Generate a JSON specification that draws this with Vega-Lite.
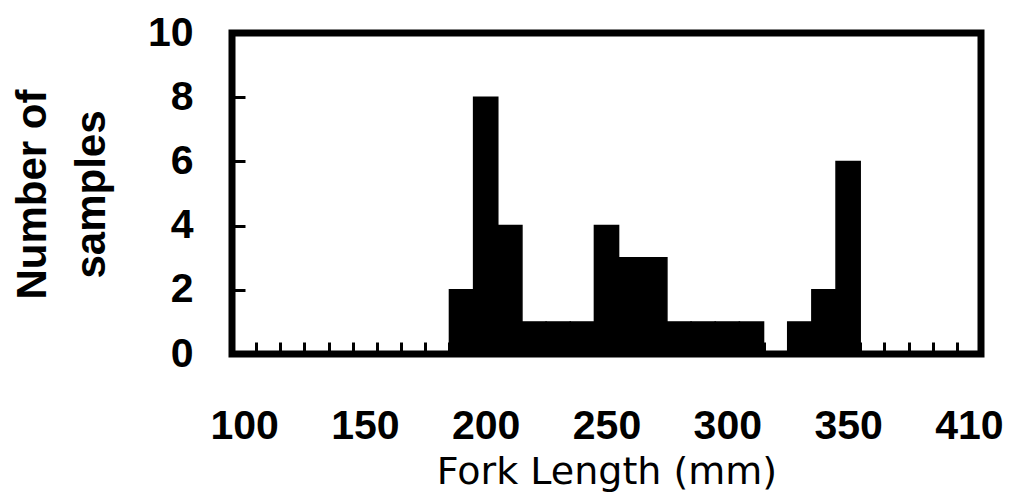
{
  "$schema": "https://vega.github.io/schema/vega-lite/v6.json",
  "autosize": {"type": "none"},
  "padding": {"left": 232, "top": 33, "right": 31, "bottom": 139},
  "width": 749,
  "height": 321,
  "background": "white",
  "config": {
    "view": {"stroke": "black", "strokeWidth": 7},
    "axis": {"grid": false, "domain": false}
  },
  "data": {
    "values": [
      {"start": 185, "end": 195, "count": 2},
      {"start": 195, "end": 205, "count": 8},
      {"start": 205, "end": 215, "count": 4},
      {"start": 215, "end": 225, "count": 1},
      {"start": 225, "end": 235, "count": 1},
      {"start": 235, "end": 245, "count": 1},
      {"start": 245, "end": 255, "count": 4},
      {"start": 255, "end": 265, "count": 3},
      {"start": 265, "end": 275, "count": 3},
      {"start": 275, "end": 285, "count": 1},
      {"start": 285, "end": 295, "count": 1},
      {"start": 295, "end": 305, "count": 1},
      {"start": 305, "end": 315, "count": 1},
      {"start": 315, "end": 325, "count": 0},
      {"start": 325, "end": 335, "count": 1},
      {"start": 335, "end": 345, "count": 2},
      {"start": 345, "end": 355, "count": 6}
    ]
  },
  "mark": {"type": "rect", "color": "black", "stroke": "black", "strokeWidth": 1.5},
  "encoding": {
    "x": {
      "field": "start",
      "type": "quantitative",
      "scale": {"domain": [95, 405], "nice": false, "zero": false},
      "axis": {
        "title": "Fork Length (mm)",
        "titleFont": "DejaVu Sans",
        "titleFontSize": 38,
        "titleFontWeight": "normal",
        "titleColor": "black",
        "titleY": 129,
        "titleBaseline": "alphabetic",
        "values": [100, 105, 115, 125, 135, 145, 150, 155, 165, 175, 185, 195, 200, 205, 215, 225, 235, 245, 250, 255, 265, 275, 285, 295, 300, 305, 315, 325, 335, 345, 350, 355, 365, 375, 385, 395, 400],
        "labelExpr": "datum.value % 50 == 0 ? (datum.value == 400 ? '410' : datum.label) : ''",
        "labelOverlap": false,
        "labelFlush": false,
        "labelFont": "Liberation Sans",
        "labelFontSize": 41,
        "labelFontWeight": "bold",
        "labelColor": "black",
        "labelBaseline": "alphabetic",
        "labelPadding": 96,
        "ticks": true,
        "tickSize": -12,
        "tickWidth": 3,
        "tickColor": "black",
        "tickOpacity": {"condition": {"test": "datum.value % 10 == 0", "value": 0}, "value": 1}
      }
    },
    "x2": {"field": "end"},
    "y": {
      "field": "count",
      "type": "quantitative",
      "scale": {"domain": [0, 10], "nice": false},
      "axis": {
        "title": ["Number of", "samples"],
        "titleFont": "Liberation Sans",
        "titleFontSize": 42,
        "titleFontWeight": "bold",
        "titleColor": "black",
        "titleLineHeight": 59,
        "titleAngle": -90,
        "titleBaseline": "middle",
        "titleAlign": "center",
        "titleX": -200,
        "titleY": 161,
        "values": [0, 2, 4, 6, 8, 10],
        "labelFont": "Liberation Sans",
        "labelFontSize": 41,
        "labelFontWeight": "bold",
        "labelColor": "black",
        "labelPadding": 52,
        "tickSize": -13,
        "tickWidth": 3,
        "tickColor": "black"
      }
    },
    "y2": {"datum": 0}
  }
}
